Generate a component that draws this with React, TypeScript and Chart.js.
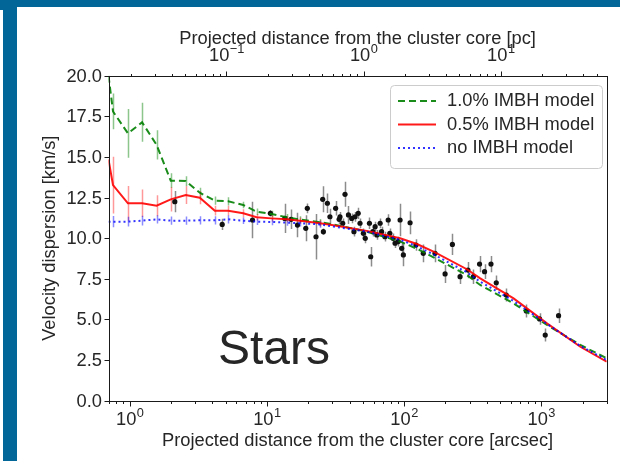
import React, { useEffect, useRef } from "react";
import { Chart, registerables } from "chart.js";

Chart.register(...registerables);

// ---------- data ----------
const X_MIN = 0.7;
const X_MAX = 3000;
const ARCSEC_PER_PC = 50.7;
const Y_MIN = 0;
const Y_MAX = 20;

const yTicks = [0, 2.5, 5, 7.5, 10, 12.5, 15, 17.5, 20];
const bottomExps = [0, 1, 2, 3];
const topExps = [-1, 0, 1];

const modelR = [0.7, 0.755, 0.97, 1.23, 1.57, 1.99, 2.56, 3.24, 4.17, 5.22, 6.72, 8.41, 10.8, 13.9, 17.4, 24.4, 30.5, 53.5, 93.5, 124, 164, 287, 359, 628, 1101, 1927, 3000];
const model10 = [20.0, 17.8, 16.45, 17.13, 15.74, 13.54, 13.52, 12.8, 12.31, 12.27, 12.04, 11.63, 11.49, 11.29, 11.15, 10.98, 10.85, 10.4, 9.8, 9.35, 8.82, 7.73, 7.12, 5.99, 4.66, 3.43, 2.61];
const model10Err = [0, 1.1, 1.5, 1.2, 0.9, 0.45, 0.3, 0.3, 0.25, 0.25, 0.2, 0.2, 0.2, 0.2, 0.2, 0.2, 0, 0, 0, 0, 0, 0, 0, 0, 0, 0, 0];
const model05 = [14.85, 13.27, 12.15, 12.15, 12.0, 12.39, 12.66, 12.49, 11.69, 11.69, 11.53, 11.29, 11.22, 11.16, 11.08, 10.92, 10.8, 10.45, 10.0, 9.64, 9.17, 8.09, 7.53, 6.3, 4.76, 3.32, 2.4];
const model05Err = [0, 1.75, 1.07, 0.85, 0.65, 0.75, 0.55, 0.4, 0.3, 0.3, 0.25, 0.2, 0.2, 0.2, 0.2, 0.2, 0, 0, 0, 0, 0, 0, 0, 0, 0, 0, 0];
const modelNo = [11.02, 11.02, 11.02, 11.08, 11.16, 11.08, 11.08, 11.1, 11.1, 11.16, 11.08, 11.02, 11.0, 10.96, 10.92, 10.85, 10.72, 10.4, 9.9, 9.5, 9.0, 7.9, 7.32, 6.13, 4.72, 3.37, 2.5];
const modelNoErr = [0, 0.35, 0.3, 0.3, 0.25, 0.25, 0.25, 0.25, 0.25, 0.25, 0.2, 0.2, 0.2, 0.2, 0.2, 0.2, 0, 0, 0, 0, 0, 0, 0, 0, 0, 0, 0];

const starsR = [2.13, 4.72, 7.85, 10.6, 13.5, 15.0, 16.7, 19.2, 19.7, 22.8, 25.5, 25.8, 27.6, 28.8, 31.7, 33.6, 34.1, 35.7, 37.1, 39.3, 41.5, 43.1, 43.9, 46.3, 47.7, 50.5, 52.1, 55.9, 57.1, 59.2, 61.5, 63.3, 66.9, 68.5, 72.5, 76.6, 78.7, 83.0, 86.0, 90.6, 93.5, 96.1, 98.8, 110.6, 122, 138, 168, 199, 225, 256, 292, 320, 355, 386, 430, 470, 556, 778, 972, 1069, 1337];
const starsV = [12.25, 10.85, 11.12, 11.53, 11.22, 11.16, 10.81, 10.61, 11.84, 10.09, 12.39, 10.4, 12.15, 11.32, 11.84, 11.16, 11.32, 10.92, 12.7, 11.43, 11.22, 10.4, 11.32, 11.53, 10.92, 10.3, 9.99, 10.92, 8.86, 10.4, 10.71, 10.2, 10.92, 10.4, 10.09, 11.12, 10.3, 9.99, 9.69, 9.79, 11.12, 9.38, 8.97, 10.95, 9.58, 9.07, 9.07, 7.8, 9.62, 7.63, 8.04, 7.63, 8.41, 7.94, 8.41, 7.26, 6.5, 5.52, 5.03, 4.04, 5.23];
const starsErr = [0.66, 0.35, 1.13, 0.2, 0.9, 0.6, 0.75, 0.8, 0.3, 1.4, 0.8, 0.2, 0.6, 0.5, 0.45, 0.3, 0.3, 0.3, 0.77, 0.55, 0.3, 0.3, 0.3, 0.35, 0.3, 0.3, 0.3, 0.35, 0.6, 0.3, 0.3, 0.3, 0.3, 0.3, 0.3, 0.35, 0.3, 0.3, 0.3, 0.3, 1.0, 0.35, 0.7, 0.7, 0.35, 0.55, 0.55, 0.55, 0.65, 0.45, 0.5, 0.45, 0.5, 0.45, 0.5, 0.45, 0.4, 0.4, 0.35, 0.4, 0.45];

const legendLabels = ["1.0% IMBH model", "0.5% IMBH model", "no IMBH model"];
const topTitle = "Projected distance from the cluster core [pc]";
const bottomTitle = "Projected distance from the cluster core [arcsec]";
const yTitle = "Velocity dispersion [km/s]";
const panelText = "Stars";

// ---------- styles ----------
const FONT = '"Liberation Sans", Arial, sans-serif';
const FS = 18.3;
const SY = 1.0;
const TEXT = "#262626";
const GREEN = "rgba(0,128,0,0.9)";
const RED = "rgba(255,0,0,0.9)";
const BLUE = "rgba(0,0,255,0.8)";
const GREEN_ERR = "rgba(0,128,0,0.45)";
const RED_ERR = "rgba(255,0,0,0.4)";
const BLUE_ERR = "rgba(0,0,255,0.45)";
const FRAME_BLUE = "#036699";

function txt(ctx: CanvasRenderingContext2D, s: string, x: number, y: number, size: number, align: CanvasTextAlign, base: CanvasTextBaseline = "alphabetic", rot = 0) {
  ctx.save();
  ctx.translate(x, y);
  if (rot) ctx.rotate(rot);
  if (rot) ctx.scale(SY, 1); else ctx.scale(1, SY);
  ctx.font = `${size}px ${FONT}`;
  ctx.fillStyle = TEXT;
  ctx.textAlign = align;
  ctx.textBaseline = base;
  ctx.fillText(s, 0, 0);
  ctx.restore();
}

function pow10Label(ctx: CanvasRenderingContext2D, exp: number, cx: number, baseline: number) {
  const b = "10";
  const e = exp < 0 ? "\u2212" + Math.abs(exp) : String(exp);
  const fe = FS * 0.7;
  ctx.font = `${FS}px ${FONT}`;
  const wb = ctx.measureText(b).width;
  ctx.font = `${fe}px ${FONT}`;
  const we = ctx.measureText(e).width;
  const x0 = cx - (wb + we) / 2;
  txt(ctx, b, x0, baseline, FS, "left");
  txt(ctx, e, x0 + wb + 0.5, baseline - FS * 0.45, fe, "left");
}

const decorPlugin = {
  id: "decor",
  beforeDatasetsDraw(chart: any) {
    const ctx: CanvasRenderingContext2D = chart.ctx;
    const xs = chart.scales.x;
    const ys = chart.scales.y;
    const a = chart.chartArea;
    ctx.save();
    ctx.beginPath();
    ctx.rect(a.left, a.top, a.right - a.left, a.bottom - a.top);
    ctx.clip();
    const bars = (R: number[], V: number[], E: number[], color: string, w: number) => {
      ctx.strokeStyle = color;
      ctx.lineWidth = w;
      for (let i = 0; i < R.length; i++) {
        if (!E[i]) continue;
        const px = Math.round(xs.getPixelForValue(R[i])) + 0.5;
        ctx.beginPath();
        ctx.moveTo(px, ys.getPixelForValue(V[i] - E[i]));
        ctx.lineTo(px, ys.getPixelForValue(V[i] + E[i]));
        ctx.stroke();
      }
    };
    bars(starsR, starsV, starsErr, "rgba(0,0,0,0.45)", 1.5);
    bars(modelR, model10, model10Err, GREEN_ERR, 1.5);
    bars(modelR, model05, model05Err, RED_ERR, 1.5);
    bars(modelR, modelNo, modelNoErr, BLUE_ERR, 1.5);
    ctx.restore();
  },
  afterDraw(chart: any) {
    const ctx: CanvasRenderingContext2D = chart.ctx;
    const xs = chart.scales.x;
    const x2 = chart.scales.x2;
    const ys = chart.scales.y;
    const a = chart.chartArea;
    ctx.save();
    // frame
    ctx.strokeStyle = "#1a1a1a";
    ctx.lineWidth = 1;
    ctx.strokeRect(Math.round(a.left) + 0.5, Math.round(a.top) + 0.5, Math.round(a.right - a.left), Math.round(a.bottom - a.top));
    const L = Math.round(a.left) + 0.5;
    const B = Math.round(a.bottom) + 0.5;
    const T = Math.round(a.top) + 0.5;
    // y ticks
    for (const v of yTicks) {
      const py = Math.round(ys.getPixelForValue(v)) + 0.5;
      ctx.beginPath();
      ctx.moveTo(L - 5, py);
      ctx.lineTo(L, py);
      ctx.stroke();
      txt(ctx, v.toFixed(1), L - 7.5, py, FS, "right", "middle");
    }
    // log ticks (bottom: arcsec, top: pc)
    const logTicks = (scale: any, lo: number, hi: number, edge: number, dir: number, exps: number[], labelY: number) => {
      for (let k = Math.floor(Math.log10(lo)); k <= Math.ceil(Math.log10(hi)); k++) {
        for (let m = 1; m <= 9; m++) {
          const v = m * Math.pow(10, k);
          if (v < lo * 0.999 || v > hi * 1.001) continue;
          const px = Math.round(scale.getPixelForValue(v)) + 0.5;
          const len = m === 1 ? 5 : 2.5;
          ctx.beginPath();
          ctx.moveTo(px, edge);
          ctx.lineTo(px, edge + dir * len);
          ctx.stroke();
        }
      }
      for (const e of exps) {
        pow10Label(ctx, e, scale.getPixelForValue(Math.pow(10, e)), labelY);
      }
    };
    logTicks(xs, X_MIN, X_MAX, B, 1, bottomExps, 425);
    logTicks(x2, X_MIN / ARCSEC_PER_PC, X_MAX / ARCSEC_PER_PC, T, -1, topExps, 61);
    // titles
    const cx = (a.left + a.right) / 2;
    txt(ctx, topTitle, cx, 44, FS, "center");
    txt(ctx, bottomTitle, cx, 446, FS, "center");
    txt(ctx, yTitle, 50, (a.top + a.bottom) / 2, FS, "center", "middle", -Math.PI / 2);
    // panel text
    txt(ctx, panelText, 218, 364, 48, "left");
    // legend
    const lx = 390.5, ly = 85.5, lw = 212, lh = 83;
    ctx.beginPath();
    (ctx as any).roundRect(lx, ly, lw, lh, 4);
    ctx.fillStyle = "rgba(255,255,255,0.85)";
    ctx.fill();
    ctx.strokeStyle = "#cccccc";
    ctx.lineWidth = 1;
    ctx.stroke();
    const entries = [
      { c: GREEN, d: [7, 4] },
      { c: RED, d: [] },
      { c: BLUE, d: [2, 3] },
    ];
    const rows = [101, 124.5, 148];
    entries.forEach((en, i) => {
      ctx.strokeStyle = en.c;
      ctx.lineWidth = 2;
      ctx.setLineDash(en.d);
      ctx.beginPath();
      ctx.moveTo(398, rows[i]);
      ctx.lineTo(436, rows[i]);
      ctx.stroke();
      ctx.setLineDash([]);
      txt(ctx, legendLabels[i], 447, rows[i], FS, "left", "middle");
    });
    ctx.restore();
  },
};

export default function App() {
  const ref = useRef<HTMLCanvasElement | null>(null);
  useEffect(() => {
    if (!ref.current) return;
    const pts = (R: number[], V: number[]) => R.map((r, i) => ({ x: r, y: V[i] }));
    const chart = new Chart(ref.current, {
      type: "scatter",
      data: {
        datasets: [
          {
            label: legendLabels[2],
            data: pts(modelR, modelNo),
            showLine: true,
            borderColor: BLUE,
            borderWidth: 2,
            borderDash: [2, 3],
            pointRadius: 0,
            tension: 0,
            order: 0,
          } as any,
          {
            label: legendLabels[1],
            data: pts(modelR, model05),
            showLine: true,
            borderColor: RED,
            borderWidth: 2,
            pointRadius: 0,
            tension: 0,
            order: 1,
          },
          {
            label: legendLabels[0],
            data: pts(modelR, model10),
            showLine: true,
            borderColor: GREEN,
            borderWidth: 2,
            borderDash: [7, 4],
            pointRadius: 0,
            tension: 0,
            order: 2,
          },
          {
            label: "stars",
            data: pts(starsR, starsV),
            showLine: false,
            backgroundColor: "#111111",
            borderWidth: 0,
            pointRadius: 2.6,
            order: 3,
          },
        ],
      },
      options: {
        animation: false,
        responsive: false,
        maintainAspectRatio: false,
        devicePixelRatio: 1,
        events: [],
        layout: { padding: { left: 108.5, top: 75.7, right: 13.3, bottom: 60.3 } },
        plugins: { legend: { display: false }, tooltip: { enabled: false } },
        scales: {
          x: { type: "logarithmic", min: X_MIN, max: X_MAX, display: false },
          x2: { type: "logarithmic", position: "top", min: X_MIN / ARCSEC_PER_PC, max: X_MAX / ARCSEC_PER_PC, display: false },
          y: { type: "linear", min: Y_MIN, max: Y_MAX, display: false },
        },
      },
      plugins: [decorPlugin],
    });
    return () => chart.destroy();
  }, []);
  return (
    <div style={{ position: "fixed", left: 0, top: 0, width: 620, height: 461, background: "#ffffff", overflow: "hidden" }}>
      <div style={{ position: "absolute", left: 0, top: 0, width: 620, height: 7, background: FRAME_BLUE }} />
      <div style={{ position: "absolute", left: 0, top: 0, width: 3, height: 10, background: FRAME_BLUE }} />
      <div style={{ position: "absolute", left: 3, top: 0, width: 14, height: 461, background: FRAME_BLUE }} />
      <canvas ref={ref} width={620} height={461} style={{ position: "absolute", left: 0, top: 0, width: 620, height: 461 }} />
    </div>
  );
}
